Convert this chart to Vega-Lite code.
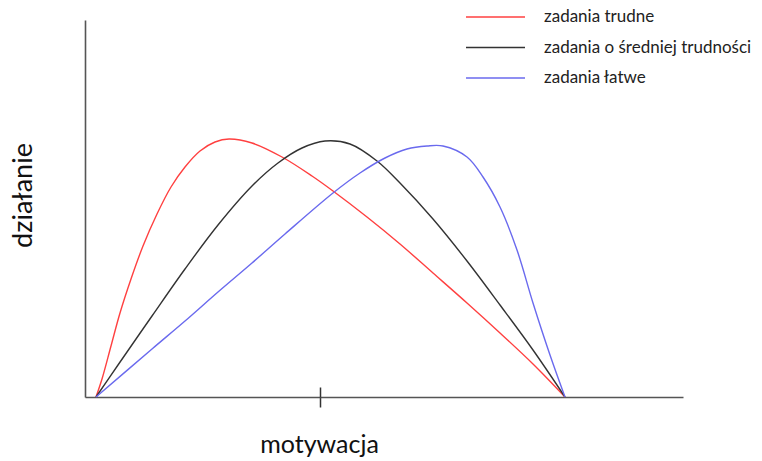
{
  "$schema": "https://vega.github.io/schema/vega-lite/v6.json",
  "width": 598,
  "height": 377,
  "autosize": "none",
  "padding": {"left": 85, "top": 20, "right": 79, "bottom": 64},
  "background": "white",
  "config": {"view": {"stroke": null}, "font": "Lato"},
  "data": {"values": [
    {"zadania": "zadania trudne", "motywacja": 11, "dzialanie": 0},
    {"zadania": "zadania trudne", "motywacja": 17, "dzialanie": 18},
    {"zadania": "zadania trudne", "motywacja": 26, "dzialanie": 51},
    {"zadania": "zadania trudne", "motywacja": 35, "dzialanie": 84},
    {"zadania": "zadania trudne", "motywacja": 46, "dzialanie": 118},
    {"zadania": "zadania trudne", "motywacja": 58, "dzialanie": 151},
    {"zadania": "zadania trudne", "motywacja": 72, "dzialanie": 183},
    {"zadania": "zadania trudne", "motywacja": 86, "dzialanie": 210},
    {"zadania": "zadania trudne", "motywacja": 100, "dzialanie": 230},
    {"zadania": "zadania trudne", "motywacja": 115, "dzialanie": 246},
    {"zadania": "zadania trudne", "motywacja": 130, "dzialanie": 255},
    {"zadania": "zadania trudne", "motywacja": 144, "dzialanie": 258},
    {"zadania": "zadania trudne", "motywacja": 167, "dzialanie": 254},
    {"zadania": "zadania trudne", "motywacja": 197, "dzialanie": 240},
    {"zadania": "zadania trudne", "motywacja": 227, "dzialanie": 221},
    {"zadania": "zadania trudne", "motywacja": 248, "dzialanie": 206},
    {"zadania": "zadania trudne", "motywacja": 282, "dzialanie": 180},
    {"zadania": "zadania trudne", "motywacja": 315, "dzialanie": 153},
    {"zadania": "zadania trudne", "motywacja": 348, "dzialanie": 124},
    {"zadania": "zadania trudne", "motywacja": 382, "dzialanie": 94},
    {"zadania": "zadania trudne", "motywacja": 415, "dzialanie": 64},
    {"zadania": "zadania trudne", "motywacja": 448, "dzialanie": 33},
    {"zadania": "zadania trudne", "motywacja": 480, "dzialanie": 0},
    {"zadania": "zadania o średniej trudności", "motywacja": 11, "dzialanie": 0},
    {"zadania": "zadania o średniej trudności", "motywacja": 33, "dzialanie": 32},
    {"zadania": "zadania o średniej trudności", "motywacja": 67, "dzialanie": 81},
    {"zadania": "zadania o średniej trudności", "motywacja": 100, "dzialanie": 128},
    {"zadania": "zadania o średniej trudności", "motywacja": 133, "dzialanie": 172},
    {"zadania": "zadania o średniej trudności", "motywacja": 167, "dzialanie": 211},
    {"zadania": "zadania o średniej trudności", "motywacja": 193, "dzialanie": 234},
    {"zadania": "zadania o średniej trudności", "motywacja": 217, "dzialanie": 249},
    {"zadania": "zadania o średniej trudności", "motywacja": 240, "dzialanie": 256},
    {"zadania": "zadania o średniej trudności", "motywacja": 265, "dzialanie": 253},
    {"zadania": "zadania o średniej trudności", "motywacja": 292, "dzialanie": 236},
    {"zadania": "zadania o średniej trudności", "motywacja": 315, "dzialanie": 214},
    {"zadania": "zadania o średniej trudności", "motywacja": 348, "dzialanie": 178},
    {"zadania": "zadania o średniej trudności", "motywacja": 382, "dzialanie": 136},
    {"zadania": "zadania o średniej trudności", "motywacja": 415, "dzialanie": 92},
    {"zadania": "zadania o średniej trudności", "motywacja": 448, "dzialanie": 47},
    {"zadania": "zadania o średniej trudności", "motywacja": 480, "dzialanie": 0},
    {"zadania": "zadania łatwe", "motywacja": 11, "dzialanie": 0},
    {"zadania": "zadania łatwe", "motywacja": 67, "dzialanie": 48},
    {"zadania": "zadania łatwe", "motywacja": 100, "dzialanie": 76},
    {"zadania": "zadania łatwe", "motywacja": 133, "dzialanie": 105},
    {"zadania": "zadania łatwe", "motywacja": 167, "dzialanie": 134},
    {"zadania": "zadania łatwe", "motywacja": 200, "dzialanie": 163},
    {"zadania": "zadania łatwe", "motywacja": 248, "dzialanie": 204},
    {"zadania": "zadania łatwe", "motywacja": 275, "dzialanie": 224},
    {"zadania": "zadania łatwe", "motywacja": 300, "dzialanie": 239},
    {"zadania": "zadania łatwe", "motywacja": 322, "dzialanie": 248},
    {"zadania": "zadania łatwe", "motywacja": 342, "dzialanie": 251},
    {"zadania": "zadania łatwe", "motywacja": 358, "dzialanie": 251},
    {"zadania": "zadania łatwe", "motywacja": 382, "dzialanie": 240},
    {"zadania": "zadania łatwe", "motywacja": 398, "dzialanie": 220},
    {"zadania": "zadania łatwe", "motywacja": 415, "dzialanie": 190},
    {"zadania": "zadania łatwe", "motywacja": 432, "dzialanie": 147},
    {"zadania": "zadania łatwe", "motywacja": 448, "dzialanie": 94},
    {"zadania": "zadania łatwe", "motywacja": 465, "dzialanie": 42},
    {"zadania": "zadania łatwe", "motywacja": 480, "dzialanie": 0}
  ]},
  "resolve": {"axis": {"x": "independent"}},
  "layer": [
    {
      "mark": {"type": "line", "interpolate": "catmull-rom", "strokeWidth": 1.4},
      "encoding": {
        "x": {
          "field": "motywacja", "type": "quantitative",
          "scale": {"domain": [0, 598], "nice": false, "zero": false},
          "axis": {
            "orient": "bottom",
            "values": [235], "labels": false, "grid": false,
            "ticks": true, "tickSize": 10, "tickColor": "#333", "tickWidth": 1.5,
            "domainColor": "#555", "domainWidth": 1.6,
            "title": "motywacja", "titleX": 234, "titleY": 55,
            "titleAlign": "center", "titleBaseline": "alphabetic",
            "titleFontSize": 25, "titleFontWeight": "normal", "titleColor": "#111", "titleFont": "Lato"
          }
        },
        "y": {
          "field": "dzialanie", "type": "quantitative",
          "scale": {"domain": [0, 377], "nice": false},
          "axis": {
            "labels": false, "ticks": false, "grid": false,
            "domainColor": "#555", "domainWidth": 1.6,
            "title": "działanie", "titleX": -62, "titleY": 175,
            "titleAngle": -90, "titleAlign": "center", "titleBaseline": "middle",
            "titleFontSize": 27, "titleFontWeight": "normal", "titleColor": "#111", "titleFont": "Lato"
          }
        },
        "color": {
          "field": "zadania", "type": "nominal",
          "scale": {
            "domain": ["zadania trudne", "zadania o średniej trudności", "zadania łatwe"],
            "range": ["#ff4040", "#333333", "#6a6aee"]
          },
          "legend": {
            "title": null, "orient": "none", "legendX": 380, "legendY": -16,
            "symbolType": "stroke", "symbolSize": 3481, "symbolStrokeWidth": 1.6,
            "clipHeight": 26, "rowPadding": 4.5,
            "labelOffset": 18, "labelFontSize": 17, "labelFont": "Lato", "labelColor": "#222",
            "labelLimit": 400
          }
        }
      }
    },
    {
      "mark": {"type": "line", "interpolate": "catmull-rom", "opacity": 0},
      "encoding": {
        "x": {
          "field": "motywacja", "type": "quantitative",
          "scale": {"domain": [0, 598], "nice": false, "zero": false},
          "axis": {
            "orient": "bottom",
            "values": [235], "labels": false, "grid": false, "domain": false,
            "ticks": true, "tickSize": 10, "tickColor": "#333", "tickWidth": 1.5,
            "offset": -10, "title": null
          }
        },
        "y": {"field": "dzialanie", "type": "quantitative", "scale": {"domain": [0, 377], "nice": false}},
        "detail": {"field": "zadania", "type": "nominal"}
      }
    }
  ]
}
